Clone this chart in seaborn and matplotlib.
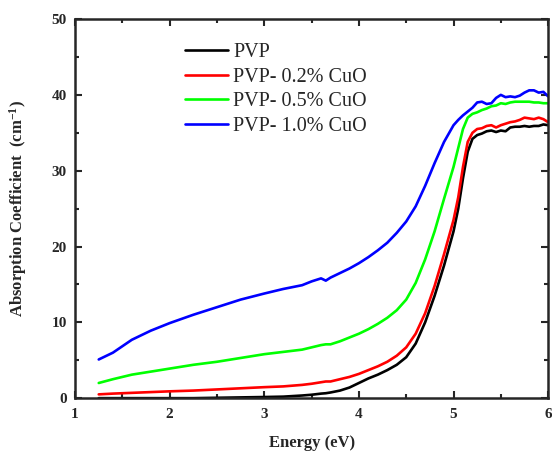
import numpy as np
import pandas as pd
import matplotlib
matplotlib.use('Agg')
import matplotlib.pyplot as plt
import seaborn as sns
from matplotlib.ticker import MultipleLocator

# data
energy = [1.25, 1.4, 1.6, 1.8, 2.0, 2.25, 2.5, 2.75, 3.0, 3.2, 3.4, 3.5, 3.6, 3.65, 3.7, 3.8, 3.9,
          4.0, 4.1, 4.2, 4.3, 4.4, 4.5, 4.6, 4.7, 4.8, 4.9, 5.0, 5.05, 5.1, 5.15, 5.2, 5.25, 5.3,
          5.35, 5.4, 5.45, 5.5, 5.55, 5.6, 5.65, 5.7, 5.75, 5.8, 5.85, 5.9, 5.95, 6.0]

pvp = [0.0, 0.0, 0.0, 0.0, 0.0, 0.0, 0.05, 0.1, 0.15, 0.2, 0.35, 0.45, 0.6, 0.65, 0.75, 1.0, 1.4,
       2.0, 2.6, 3.1, 3.7, 4.4, 5.4, 7.2, 10.0, 13.5, 17.5, 22.0, 25.0, 29.0, 32.5, 34.2, 34.7, 34.9,
       35.2, 35.3, 35.1, 35.3, 35.2, 35.7, 35.8, 35.8, 35.9, 35.8, 35.9, 35.9, 36.1, 36.0]

cuo_02 = [0.5, 0.6, 0.7, 0.8, 0.9, 1.0, 1.15, 1.3, 1.45, 1.55, 1.75, 1.9, 2.1, 2.2, 2.2, 2.5, 2.8,
          3.2, 3.7, 4.2, 4.8, 5.6, 6.7, 8.5, 11.2, 14.8, 19.0, 23.5, 26.5, 30.5, 33.8, 35.0, 35.5, 35.6,
          35.9, 36.0, 35.7, 36.0, 36.2, 36.4, 36.5, 36.7, 37.0, 36.9, 36.8, 37.0, 36.8, 36.4]

cuo_05 = [2.0, 2.5, 3.1, 3.5, 3.9, 4.4, 4.8, 5.3, 5.8, 6.1, 6.4, 6.7, 7.0, 7.1, 7.1, 7.5, 8.0,
          8.5, 9.1, 9.8, 10.6, 11.6, 13.0, 15.2, 18.3, 22.0, 26.3, 30.5, 33.0, 35.5, 37.0, 37.5, 37.7, 38.0,
          38.2, 38.5, 38.6, 38.9, 38.8, 39.0, 39.1, 39.1, 39.1, 39.1, 39.0, 39.0, 38.9, 38.9]

cuo_10 = [5.1, 6.0, 7.7, 8.9, 9.9, 11.0, 12.0, 13.0, 13.8, 14.4, 14.9, 15.4, 15.8, 15.5, 15.9, 16.5, 17.1,
          17.8, 18.6, 19.5, 20.5, 21.8, 23.3, 25.3, 28.0, 31.0, 33.8, 36.0, 36.7, 37.3, 37.8, 38.3, 39.0, 39.1,
          38.8, 38.9, 39.6, 40.0, 39.7, 39.8, 39.7, 39.9, 40.3, 40.6, 40.6, 40.3, 40.4, 39.8]

labels = ['PVP', 'PVP- 0.2% CuO', 'PVP- 0.5% CuO', 'PVP- 1.0% CuO']
colors = ['#000000', '#ff0000', '#00ff00', '#0000ff']

df = pd.concat([
    pd.DataFrame({'energy': energy, 'alpha': vals, 'sample': lab})
    for vals, lab in zip([pvp, cuo_02, cuo_05, cuo_10], labels)
])

sns.set_theme(style='ticks')
plt.rcParams['font.family'] = ['Liberation Serif', 'DejaVu Serif']
plt.rcParams['mathtext.fontset'] = 'custom'
plt.rcParams['mathtext.rm'] = 'Liberation Serif:bold'
plt.rcParams['mathtext.it'] = 'Liberation Serif:bold'

fig = plt.figure(figsize=(5.52, 4.54), dpi=100)
ax = fig.add_axes([0.136, 0.123, 0.857, 0.835])

sns.lineplot(data=df, x='energy', y='alpha', hue='sample', palette=dict(zip(labels, colors)),
             linewidth=1.9, ax=ax)

ax.set_xlim(1, 6)
ax.set_ylim(0, 50)
ax.xaxis.set_major_locator(MultipleLocator(1))
ax.xaxis.set_minor_locator(MultipleLocator(0.5))
ax.yaxis.set_major_locator(MultipleLocator(10))
ax.yaxis.set_minor_locator(MultipleLocator(5))
ax.tick_params(which='both', direction='in', top=True, right=True, width=1.5, labelsize=11)
ax.tick_params(which='major', length=5)
ax.tick_params(which='minor', length=3)
ax.tick_params(axis='x', pad=7)
ax.tick_params(axis='y', pad=6)
for lab in ax.get_xticklabels() + ax.get_yticklabels():
    lab.set_fontweight('bold')
for s in ax.spines.values():
    s.set_linewidth(1.8)

ax.set_xlabel('Energy (eV)', fontsize=12, fontweight='bold', labelpad=10)
ax.set_ylabel('Absorption Coefficient  (cm$^{-1}$)', fontsize=12, fontweight='bold', labelpad=16)

leg = ax.legend(loc='upper left', bbox_to_anchor=(0.194, 0.985), frameon=False, fontsize=14.5,
                handlelength=2.15, labelspacing=0.28, handletextpad=0.25)
for h in leg.get_lines():
    h.set_linewidth(1.9)

fig.savefig('out.png', dpi=100)
